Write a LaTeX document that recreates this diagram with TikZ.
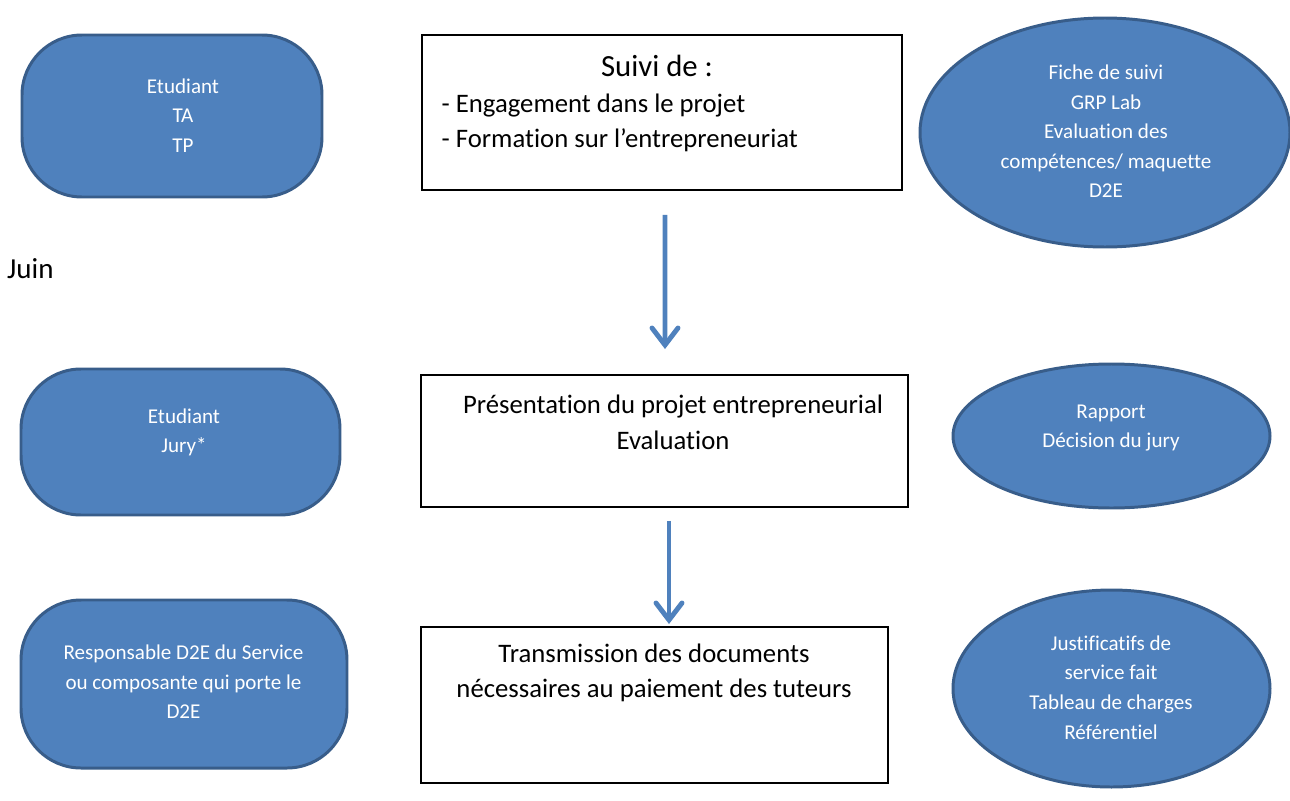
\documentclass[tikz,border=0pt]{standalone}
\usepackage{fontspec}
\setmainfont{Carlito}[Ligatures={NoCommon}]
\usetikzlibrary{shapes.geometric,arrows.meta}
\definecolor{officeblue}{RGB}{79,129,189}
\definecolor{officeline}{RGB}{56,93,138}

\begin{document}
\begin{tikzpicture}[
  who/.style={rectangle,draw=officeline,fill=officeblue,line width=1.7pt,rounded corners=1.2cm},
  doc/.style={ellipse,draw=officeline,fill=officeblue,line width=1.7pt,inner sep=0pt},
  stage/.style={rectangle,draw,line width=1.1pt},
  small/.style={text=white,align=center,font=\fontsize{12}{16.8}\selectfont},
  big/.style={align=center,font=\fontsize{15.2}{20.4}\selectfont},
  flow/.style={draw=officeblue,line width=2.8pt,-{Straight Barb[length=0.34cm,width=0.52cm,line cap=round]}}
]
\useasboundingbox (0,0) rectangle (25.8,-16.02);
% who does it
\node[who,minimum width=6cm,minimum height=3.24cm] (etu1) at (3.44,-2.32) {};
\node[who,minimum width=6.38cm,minimum height=2.92cm] (etu2) at (3.61,-8.84) {};
\node[who,minimum width=6.52cm,minimum height=3.36cm] (resp) at (3.68,-13.68) {};
\node[small] (tetu1) at (3.66,-2.31) {Etudiant\\TA\\TP};
\node[small] (tetu2) at (3.68,-8.65) {Etudiant\\Jury*};
\node[small] (tresp) at (3.67,-13.64) {Responsable D2E du Service\\ou composante qui porte le\\D2E};
% stages
\node[stage,minimum width=9.6cm,minimum height=3.1cm] (suivi) at (13.24,-2.25) {};
\node[stage,minimum width=9.74cm,minimum height=2.64cm] (pres) at (13.29,-8.82) {};
\node[stage,minimum width=9.34cm,minimum height=3.12cm] (trans) at (13.09,-14.1) {};
\node[font=\fontsize{17.5}{21}\selectfont,anchor=base] (tsuivi) at (13.14,-1.534) {Suivi de :};
\node[big,anchor=base west] (teng) at (8.71,-2.254) {- Engagement dans le projet};
\node[big,anchor=base west] (tform) at (8.71,-2.946) {- Formation sur l’entrepreneuriat};
\node[big] (tpres) at (13.46,-8.44) {Présentation du projet entrepreneurial\\Evaluation};
\node[big] (ttrans) at (13.08,-13.456) {Transmission des documents\\nécessaires au paiement des tuteurs};
% documents
\node[doc,minimum width=7.4cm,minimum height=4.58cm] (fiche) at (22.1,-2.65) {};
\node[doc,minimum width=6.34cm,minimum height=2.88cm] (rapport) at (22.23,-8.72) {};
\node[doc,minimum width=6.34cm,minimum height=3.94cm] (justif) at (22.23,-13.77) {};
\node[small] (tfiche) at (22.12,-2.63) {Fiche de suivi\\GRP Lab\\Evaluation des\\compétences/ maquette\\D2E};
\node[small] (trapport) at (22.22,-8.56) {Rapport\\Décision du jury};
\node[small] (tjustif) at (22.22,-13.75) {Justificatifs de\\service fait\\Tableau de charges\\Référentiel};
\node[font=\fontsize{16.5}{20}\selectfont,anchor=base west] (juin) at (0.02,-5.56) {Juin};
% arrows
\draw[flow,shorten <=0.48cm,shorten >=0.5cm] ([xshift=0.06cm]suivi.south) -- ([xshift=0.01cm]pres.north);
\draw[flow,shorten <=0.26cm,shorten >=0.04cm] ([xshift=0.09cm]pres.south) -- ([xshift=0.29cm]trans.north);
\end{tikzpicture}
\end{document}
